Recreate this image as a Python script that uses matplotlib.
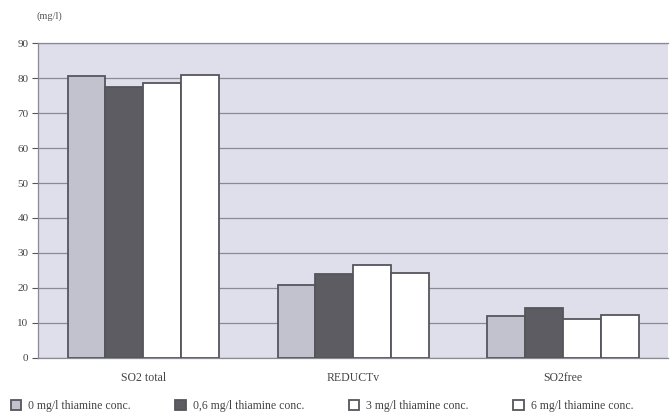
import matplotlib
matplotlib.use('Agg')
import matplotlib.pyplot as plt
import numpy as np
from matplotlib.patches import Patch

categories = ['SO2 total', 'REDUCTv', 'SO2free']
series_names = ['0 mg/l thiamine conc.', '0,6 mg/l thiamine conc.',
                '3 mg/l thiamine conc.', '6 mg/l thiamine conc.']
conc_0 = [80.5, 20.8, 11.9]
conc_06 = [77.6, 24.0, 14.2]
conc_3 = [78.6, 26.6, 11.0]
conc_6 = [80.8, 24.2, 12.3]
yticks = [0, 10, 20, 30, 40, 50, 60, 70, 80, 90]

colors = ['#c2c2ce', '#5c5c62', '#ffffff', '#ffffff']
edge = '#55555c'

plt.rcParams['font.family'] = ['Liberation Serif', 'DejaVu Serif']

fig = plt.figure(figsize=(6.7, 4.19), dpi=100)
ax = fig.add_axes([0.057, 0.146, 0.94, 0.751])
ax.set_facecolor('#dfdfec')

x = np.arange(len(categories))
w = 0.18
for i, vals in enumerate([conc_0, conc_06, conc_3, conc_6]):
    ax.bar(x + (i - 1.5) * w, vals, w, color=colors[i], edgecolor=edge,
           linewidth=1.3, zorder=3)

ax.set_ylim(0, 90)
ax.set_xlim(-0.5, 2.5)
ax.set_yticks(yticks)
ax.yaxis.grid(True, color='#8a8a96', linewidth=0.9, zorder=0)
ax.tick_params(axis='y', labelsize=8, colors='#555555', length=4,
               width=0.8, pad=3, labelcolor='#444444')
ax.set_xticks(x)
ax.set_xticklabels(categories)
ax.tick_params(axis='x', length=0, labelsize=8.5, pad=10, labelcolor='#444444')
for s in ['left', 'top', 'bottom']:
    ax.spines[s].set_color('#8a8a96')
    ax.spines[s].set_linewidth(0.9)
ax.spines['right'].set_visible(False)

fig.text(0.055, 0.955, '(mg/l)', fontsize=7.5, color='#555555')

handles = [Patch(facecolor=c, edgecolor=edge, linewidth=1.3) for c in colors]
fig.legend(handles, series_names, loc='lower left', bbox_to_anchor=(0.0, -0.008),
           ncol=4, frameon=False, fontsize=8.5, handlelength=0.9,
           handleheight=0.9, handletextpad=0.6, columnspacing=3.75,
           labelcolor='#444444')

fig.savefig('out.png', dpi=100, facecolor='white')
